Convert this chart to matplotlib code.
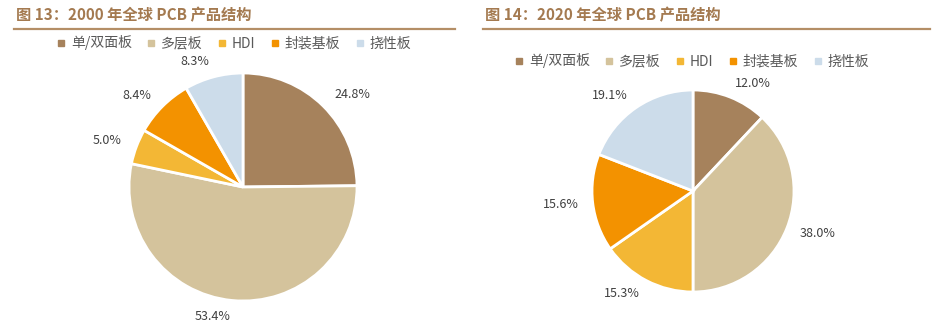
import matplotlib.pyplot as plt
from matplotlib.lines import Line2D

plt.rcParams['font.family'] = ['Noto Sans CJK SC', 'DejaVu Sans']

categories = ["单/双面板", "多层板", "HDI", "封装基板", "挠性板"]
share_2000 = [24.8, 53.4, 5.0, 8.4, 8.3]
share_2020 = [12.0, 38.0, 15.3, 15.6, 19.1]
titles = ["图 13：2000 年全球 PCB 产品结构", "图 14：2020 年全球 PCB 产品结构"]

colors = ["#a6825c", "#d4c39c", "#f3b735", "#f39200", "#ccdcea"]
title_color = "#a47a50"
W, H = 932, 325

fig = plt.figure(figsize=(W / 100, H / 100), dpi=100)


def draw_pie(values, cx, cy, r, lim=1.4):
    # place a square axes so the unit pie lands at (cx, cy) with radius r px
    size = 2 * lim * r
    ax = fig.add_axes([(cx - size / 2) / W, (H - cy - size / 2) / H, size / W, size / H])
    wedges, texts = ax.pie(values, colors=colors, startangle=90, counterclock=False,
                           labels=[f"{v:.1f}%" for v in values], labeldistance=1.14,
                           wedgeprops=dict(edgecolor="white", linewidth=2),
                           textprops=dict(color="#404040", fontsize=9))
    ax.set_xlim(-lim, lim)
    ax.set_ylim(-lim, lim)
    ax.set_aspect("equal")
    ax.axis("off")
    return ax


draw_pie(share_2000, 243, 187, 114)
draw_pie(share_2020, 693, 191, 101)

# headers with rule below
for x0, x1, t in [(14, 455, titles[0]), (483, 930, titles[1])]:
    fig.text(x0 / W + 0.002, 1 - 15 / H, t, fontsize=11, fontweight="bold",
             color=title_color, va="center", ha="left")
    fig.add_artist(Line2D([x0 / W, x1 / W], [1 - 29 / H, 1 - 29 / H],
                          color="#b48e66", linewidth=1.6))

handles = [Line2D([], [], marker="s", linestyle="", markersize=4,
                  markerfacecolor=c, markeredgecolor=c) for c in colors]
for cx, cy in [(234, 43), (692, 61)]:
    fig.legend(handles, categories, ncol=5, loc="center",
               bbox_to_anchor=(cx / W, 1 - cy / H), frameon=False,
               fontsize=10, handlelength=0.6, handletextpad=0.4,
               columnspacing=1.1, labelcolor="#595959")

fig.savefig("out.png", dpi=100)
